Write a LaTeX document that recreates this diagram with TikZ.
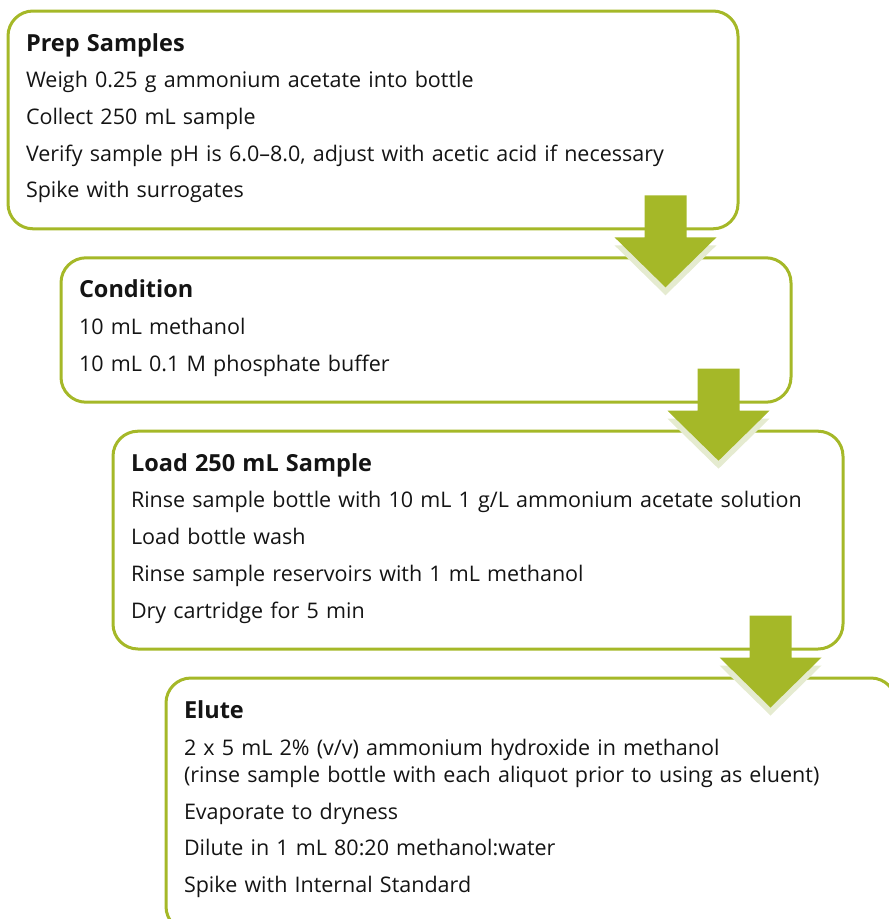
\documentclass[tikz,border=0pt]{standalone}
\usepackage{fontspec}
\setmainfont{Open Sans}
\usetikzlibrary{positioning,calc}
\definecolor{leaf}{RGB}{165,184,40}
\definecolor{leafshade}{RGB}{229,235,208}
\definecolor{ink}{RGB}{20,20,20}
\tikzset{
  stepbox/.style={draw=leaf,line width=3pt,rounded corners=25pt,minimum width=730pt,
    text width=694pt,inner xsep=18pt,inner ysep=0pt,align=left,text=ink,
    font=\fontsize{21.5}{36.7}\selectfont},
  flow/.style={fill=leaf},
  flowshade/.style={fill=leafshade},
}
\newcommand{\steptitle}[1]{\rule{0pt}{40pt}{\fontsize{23.5}{36.7}\selectfont\bfseries #1}}
\newcommand{\stepend}[1][31pt]{\rule[-#1]{0pt}{#1}}
% block arrow from the box #1 down into the box #2
\newcommand{\stepdown}[2]{%
  \fill[flowshade] let \p1=(#1.south east), \p2=(#2.north) in
    (\x1-125pt,\y2+11pt) -- (\x1-23pt,\y2+11pt) -- (\x1-74pt,\y2-39pt) -- cycle;
  \fill[flow] let \p1=(#1.south east), \p2=(#2.north) in
    (\x1-95pt,\y1+35pt) -- (\x1-53pt,\y1+35pt) -- (\x1-53pt,\y2+19pt)
    -- (\x1-23pt,\y2+19pt) -- (\x1-74pt,\y2-31pt) -- (\x1-125pt,\y2+19pt)
    -- (\x1-95pt,\y2+19pt) -- cycle;}

\begin{document}
\begin{tikzpicture}[x=1pt,y=1pt]
  \useasboundingbox (0,0) rectangle (889,-919);
  \clip (0,0) rectangle (889,-919);
  % steps
  \node[stepbox,anchor=north west] (prep) at (6.5,-9.5) {\steptitle{Prep Samples}\\
    Weigh 0.25 g ammonium acetate into bottle\\
    Collect 250 mL sample\\
    Verify sample pH is 6.0–8.0, adjust with acetic acid if necessary\\
    Spike with surrogates\stepend};
  \node[stepbox,below right=26pt and 53pt of prep.south west] (cond) {\steptitle{Condition}\\
    10 mL methanol\\
    10 mL 0.1 M phosphate buffer\stepend};
  \node[stepbox,below right=26pt and 52pt of cond.south west] (load) {\steptitle{Load 250 mL Sample}\\
    Rinse sample bottle with 10 mL 1 g/L ammonium acetate solution\\
    Load bottle wash\\
    Rinse sample reservoirs with 1 mL methanol\\
    Dry cartridge for 5 min\stepend};
  \node[stepbox,below right=26pt and 53pt of load.south west] (elute) {\steptitle{Elute}\\[1pt]
    2 x 5 mL 2\% (v/v) ammonium hydroxide in methanol\\[-10pt]
    (rinse sample bottle with each aliquot prior to using as eluent)\\
    Evaporate to dryness\\
    Dilute in 1 mL 80:20 methanol:water\\
    Spike with Internal Standard\stepend[39pt]};

  % arrows
  \stepdown{prep}{cond}
  \stepdown{cond}{load}
  \stepdown{load}{elute}
\end{tikzpicture}
\end{document}
